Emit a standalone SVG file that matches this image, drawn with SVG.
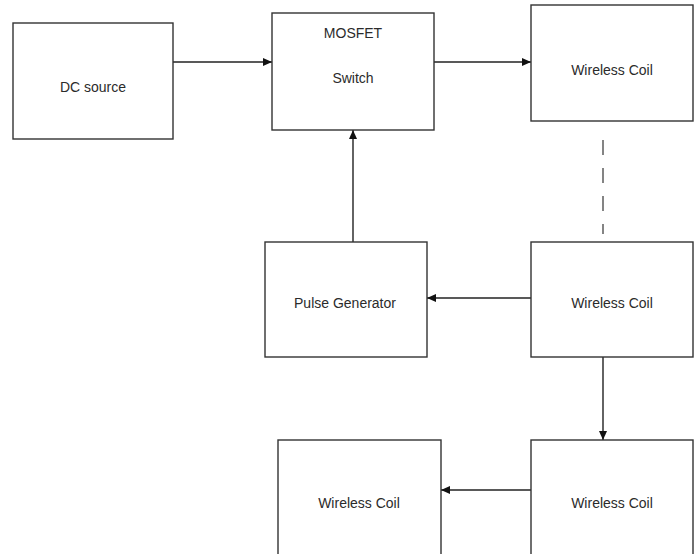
<svg xmlns="http://www.w3.org/2000/svg" width="697" height="554" viewBox="0 0 697 554">
<style>
.box{fill:#fff;stroke:#333;stroke-width:1.4}
.lbl{font-family:"Liberation Sans",Arial,sans-serif;font-size:14px;fill:#2b2b2b;text-anchor:middle}
.con{stroke:#222;stroke-width:1.4;fill:none}
.dash{stroke:#666;stroke-width:1.6;fill:none;stroke-dasharray:15,13}
</style>
<defs>
<marker id="ah" markerWidth="9" markerHeight="8" refX="9" refY="4" orient="auto" markerUnits="userSpaceOnUse">
<path d="M0,0 L9,4 L0,8 Z" fill="#111"/>
</marker>
</defs>
<rect width="697" height="554" fill="#fff"/>
<g id="connectors">
<line class="con" x1="173" y1="62" x2="272" y2="62" marker-end="url(#ah)"/>
<line class="con" x1="434" y1="62" x2="531" y2="62" marker-end="url(#ah)"/>
<line class="con" x1="353" y1="242" x2="353" y2="130" marker-end="url(#ah)"/>
<line class="con" x1="531" y1="298" x2="427" y2="298" marker-end="url(#ah)"/>
<line class="con" x1="603" y1="357" x2="603" y2="440" marker-end="url(#ah)"/>
<line class="con" x1="531" y1="490" x2="441" y2="490" marker-end="url(#ah)"/>
<line class="dash" x1="603" y1="140" x2="603" y2="234"/>
</g>
<g id="dc-source">
<rect class="box" x="13" y="23" width="160" height="116"/>
<text class="lbl" x="93" y="92">DC source</text>
</g>
<g id="mosfet-switch">
<rect class="box" x="272" y="13" width="162" height="117"/>
<text class="lbl" x="353" y="38">MOSFET</text>
<text class="lbl" x="353" y="83">Switch</text>
</g>
<g id="wireless-coil-1">
<rect class="box" x="531" y="5" width="162" height="116"/>
<text class="lbl" x="612" y="75">Wireless Coil</text>
</g>
<g id="pulse-generator">
<rect class="box" x="265" y="242" width="162" height="115"/>
<text class="lbl" x="345" y="308">Pulse Generator</text>
</g>
<g id="wireless-coil-2">
<rect class="box" x="531" y="242" width="162" height="115"/>
<text class="lbl" x="612" y="308">Wireless Coil</text>
</g>
<g id="wireless-coil-3">
<rect class="box" x="531" y="440" width="162" height="125"/>
<text class="lbl" x="612" y="508">Wireless Coil</text>
</g>
<g id="wireless-coil-4">
<rect class="box" x="278" y="440" width="163" height="125"/>
<text class="lbl" x="359" y="508">Wireless Coil</text>
</g>
</svg>
